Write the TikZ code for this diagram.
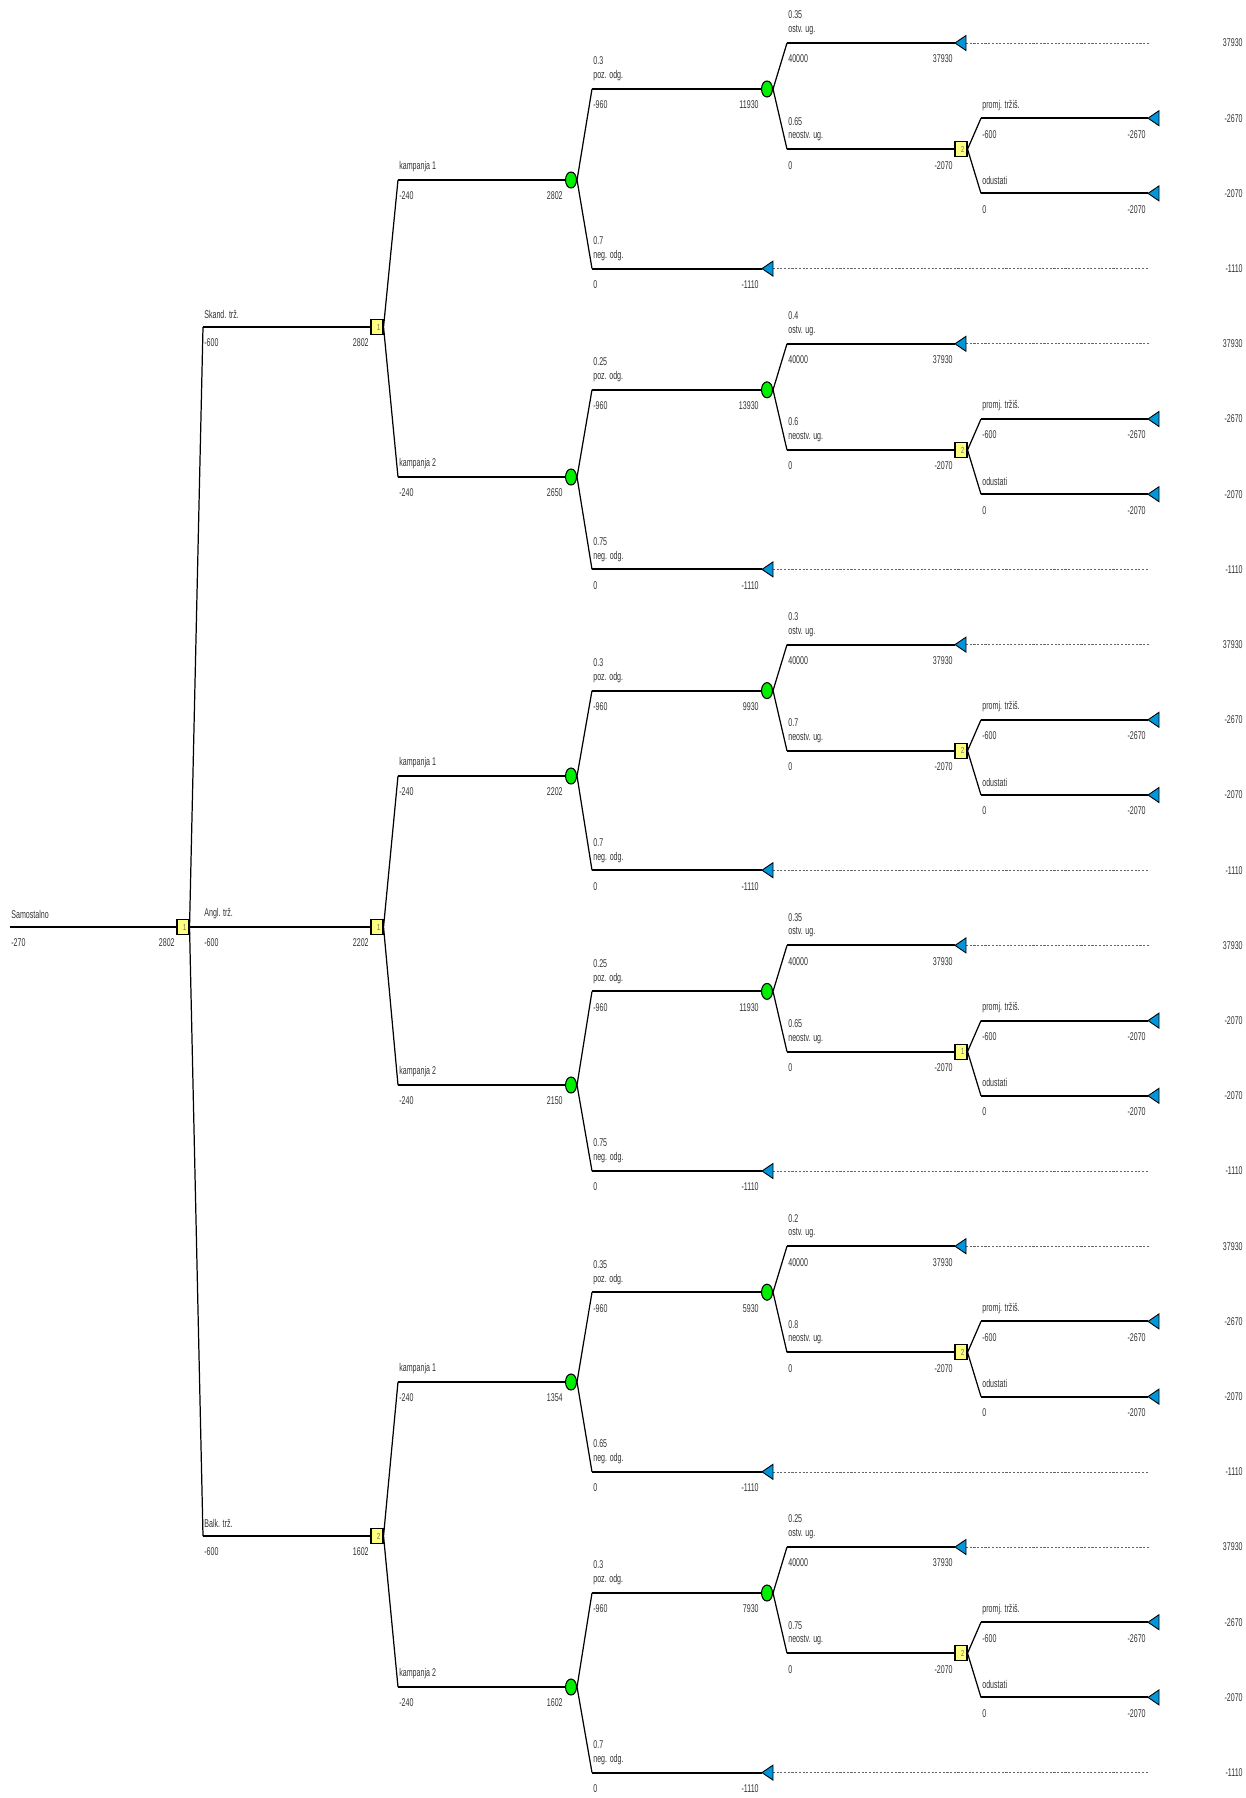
\documentclass[tikz,border=0pt]{standalone}
\usepackage{fontspec}
\setmainfont[FakeStretch=0.63]{Liberation Sans}
\usepackage{tikz}
\usetikzlibrary{shapes.geometric,calc}
\definecolor{zufallgruen}{RGB}{0,240,0}
\definecolor{entschgelb}{RGB}{255,255,128}
\definecolor{endblau}{RGB}{0,150,220}

\begin{document}
\begin{tikzpicture}[x=0.02cm,y=-0.02cm,
  lbl/.style={font=\fontsize{6.4}{7}\selectfont,text=black!80,inner sep=0pt},
  ast/.style={line width=1.1pt},
  knick/.style={line width=0.7pt},
  fortsetz/.style={black!60,line width=0.35pt,dash pattern=on 1.2pt off 0.9pt},
  entsch/.style={draw=black,line width=0.6pt,fill=entschgelb,minimum width=0.24cm,minimum height=0.3cm,inner sep=0pt,font=\fontsize{5}{5}\selectfont,text=black!60},
  zufall/.style={ellipse,draw=black,line width=0.6pt,fill=zufallgruen,minimum width=0.22cm,minimum height=0.32cm,inner sep=0pt},
  endk/.style={fill=endblau,draw=black,line width=0.5pt}]
\useasboundingbox (0,0) rectangle (1246,1798);
%Wurzel
\node[entsch] (wurzel) at (183,927) {\hspace*{2pt}1};
\coordinate (start) at (10,927);
\draw[ast] (start) -- (wurzel.west);
\node[lbl,anchor=west] at (11,914) {Samostalno};
\node[lbl,anchor=west] at (11,943) {-270};
\node[lbl,anchor=east] at (175,943) {2802};
%Maerkte
\foreach \nm/\yW/\txt/\wert/\ziffer in {sk/327/Skand. trž./2802/1, an/927/Angl. trž./2202/1, ba/1536/Balk. trž./1602/2}{
  \coordinate (k\nm) at (203,\yW);
  \node[entsch] (q\nm) at (377,\yW) {\hspace*{2pt}\ziffer};
  \draw[knick] (wurzel.east) -- (k\nm);
  \draw[ast] (k\nm) -- (q\nm.west);
  \node[lbl,anchor=west] at (204,\yW-13) {\txt};
  \node[lbl,anchor=west] at (204,\yW+16) {-600};
  \node[lbl,anchor=east] at (369,\yW+16) {\wert};
}
%Kampanje mit Teilbaum
\foreach \nm/\oben/\nr/\yC/\idx/\wert/\pp/\pn/\po/\pu/\vp/\ziff/\vpr in {
  sk1/sk/1/180/0/2802/0.3/0.7/0.35/0.65/11930/2/-2670,
  sk2/sk/2/477/4/2650/0.25/0.75/0.4/0.6/13930/2/-2670,
  an1/an/1/776/8/2202/0.3/0.7/0.3/0.7/9930/2/-2670,
  an2/an/2/1085/12/2150/0.25/0.75/0.35/0.65/11930/1/-2070,
  ba1/ba/1/1382/16/1354/0.35/0.65/0.2/0.8/5930/2/-2670,
  ba2/ba/2/1687/20/1602/0.3/0.7/0.25/0.75/7930/2/-2670}{
  \pgfmathsetmacro{\yO}{43+75.2*\idx}
  \pgfmathsetmacro{\yPr}{\yO+75.2}
  \pgfmathsetmacro{\yOd}{\yO+2*75.2}
  \pgfmathsetmacro{\yN}{\yO+3*75.2}
  \pgfmathsetmacro{\yP}{\yO+46}
  \pgfmathsetmacro{\yS}{\yPr+31}
  % kampanja
  \coordinate (k\nm) at (398,\yC);
  \node[zufall] (c\nm) at (571,\yC) {};
  \draw[knick] (q\oben.east) -- (k\nm);
  \draw[ast] (k\nm) -- (c\nm.west);
  \node[lbl,anchor=west] at (399,\yC-13) {kampanja \nr};
  \node[lbl,anchor=west] at (399,\yC+16) {-240};
  \node[lbl,anchor=east] at (563,\yC+16) {\wert};
  % poz. odg.
  \coordinate (kp\nm) at (592,\yP);
  \node[zufall] (p\nm) at (767,\yP) {};
  \draw[knick] (c\nm.east) -- (kp\nm);
  \draw[ast] (kp\nm) -- (p\nm.west);
  \node[lbl,anchor=west] at (593,\yP-28) {\pp};
  \node[lbl,anchor=west] at (593,\yP-13) {poz. odg.};
  \node[lbl,anchor=west] at (593,\yP+16) {-960};
  \node[lbl,anchor=east] at (759,\yP+16) {\vp};
  % neg. odg.
  \coordinate (kn\nm) at (592,\yN);
  \coordinate (tn\nm) at (762,\yN);
  \coordinate (rn\nm) at (1149,\yN);
  \draw[knick] (c\nm.east) -- (kn\nm);
  \draw[ast] (kn\nm) -- (tn\nm);
  \draw[fortsetz] ($(tn\nm)+(11,0)$) -- (rn\nm);
  \filldraw[endk] (tn\nm) -- ++(11,-7.5) -- ++(0,15) -- cycle;
  \node[lbl,anchor=west] at (593,\yN-28) {\pn};
  \node[lbl,anchor=west] at (593,\yN-13) {neg. odg.};
  \node[lbl,anchor=west] at (593,\yN+16) {0};
  \node[lbl,anchor=east] at (759,\yN+16) {-1110};
  \node[lbl,anchor=east] at (1243,\yN) {-1110};
  % ostv. ug.
  \coordinate (ko\nm) at (787,\yO);
  \coordinate (to\nm) at (955,\yO);
  \coordinate (ro\nm) at (1149,\yO);
  \draw[knick] (p\nm.east) -- (ko\nm);
  \draw[ast] (ko\nm) -- (to\nm);
  \draw[fortsetz] ($(to\nm)+(11,0)$) -- (ro\nm);
  \filldraw[endk] (to\nm) -- ++(11,-7.5) -- ++(0,15) -- cycle;
  \node[lbl,anchor=west] at (788,\yO-28) {\po};
  \node[lbl,anchor=west] at (788,\yO-13) {ostv. ug.};
  \node[lbl,anchor=west] at (788,\yO+16) {40000};
  \node[lbl,anchor=east] at (953,\yO+16) {37930};
  \node[lbl,anchor=east] at (1243,\yO) {37930};
  % neostv. ug.
  \coordinate (ku\nm) at (787,\yS);
  \node[entsch] (s\nm) at (961,\yS) {\hspace*{2pt}\ziff};
  \draw[knick] (p\nm.east) -- (ku\nm);
  \draw[ast] (ku\nm) -- (s\nm.west);
  \node[lbl,anchor=west] at (788,\yS-28) {\pu};
  \node[lbl,anchor=west] at (788,\yS-13) {neostv. ug.};
  \node[lbl,anchor=west] at (788,\yS+16) {0};
  \node[lbl,anchor=east] at (953,\yS+16) {-2070};
  % promj. trzis.
  \coordinate (kr\nm) at (981,\yPr);
  \coordinate (tr\nm) at (1148,\yPr);
  \draw[knick] (s\nm.east) -- (kr\nm);
  \draw[ast] (kr\nm) -- (tr\nm);
  \filldraw[endk] (tr\nm) -- ++(11,-7.5) -- ++(0,15) -- cycle;
  \node[lbl,anchor=west] at (982,\yPr-13) {promj. tržiš.};
  \node[lbl,anchor=west] at (982,\yPr+16) {-600};
  \node[lbl,anchor=east] at (1146,\yPr+16) {\vpr};
  \node[lbl,anchor=east] at (1243,\yPr) {\vpr};
  % odustati
  \coordinate (kd\nm) at (981,\yOd);
  \coordinate (td\nm) at (1148,\yOd);
  \draw[knick] (s\nm.east) -- (kd\nm);
  \draw[ast] (kd\nm) -- (td\nm);
  \filldraw[endk] (td\nm) -- ++(11,-7.5) -- ++(0,15) -- cycle;
  \node[lbl,anchor=west] at (982,\yOd-13) {odustati};
  \node[lbl,anchor=west] at (982,\yOd+16) {0};
  \node[lbl,anchor=east] at (1146,\yOd+16) {-2070};
  \node[lbl,anchor=east] at (1243,\yOd) {-2070};
}
\end{tikzpicture}
\end{document}
